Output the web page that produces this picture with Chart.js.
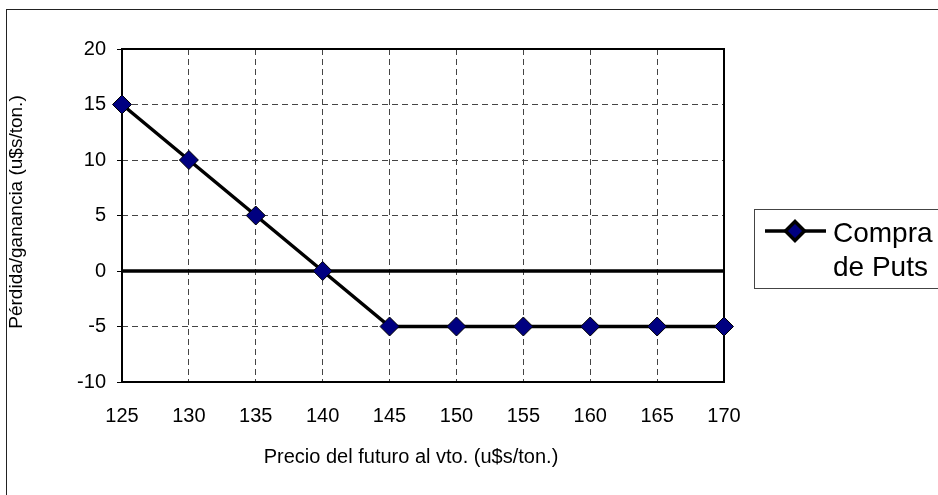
<!DOCTYPE html>
<html>
<head>
<meta charset="utf-8">
<script src="https://cdn.jsdelivr.net/npm/chart.js@4"></script>
<style>
  html, body { margin: 0; padding: 0; background: #fff; overflow: hidden; }
  #wrap { position: relative; width: 938px; height: 495px; }
</style>
</head>
<body>
<div id="wrap"><canvas id="c" width="938" height="495"></canvas></div>
<script>
// Payoff of a long put position at expiry
const precios   = [125, 130, 135, 140, 145, 150, 155, 160, 165, 170];
const resultado = [15, 10, 5, 0, -5, -5, -5, -5, -5, -5];
const serieNombre = ['Compra', 'de Puts'];
const tituloX = 'Precio del futuro al vto. (u$s/ton.)';
const tituloY = 'Pérdida/ganancia (u$s/ton.)';
const yMin = -10, yMax = 20, yPaso = 5;
const xMin = 125, xMax = 170, xPaso = 5;

const FUENTE = '"Liberation Sans", Arial, sans-serif';
const AZUL = '#000080';

const marco = {
  id: 'marco',
  beforeDraw(chart) {
    const ctx = chart.ctx;
    ctx.save();
    ctx.fillStyle = '#fff';
    ctx.fillRect(0, 0, chart.width, chart.height);
    // outer frame of the chart object
    ctx.strokeStyle = '#222';
    ctx.lineWidth = 1;
    ctx.strokeRect(6.5, 9.5, 1000, 600);
    ctx.restore();
  },
  beforeDatasetsDraw(chart) {
    const ctx = chart.ctx;
    const a = chart.chartArea;
    const y = chart.scales.y;
    ctx.save();
    // plot area border
    ctx.strokeStyle = '#000';
    ctx.lineWidth = 2;
    ctx.strokeRect(a.left, a.top, a.right - a.left, a.bottom - a.top);
    // zero line
    const y0 = y.getPixelForValue(0);
    ctx.lineWidth = 3.5;
    ctx.beginPath();
    ctx.moveTo(a.left, y0);
    ctx.lineTo(a.right, y0);
    ctx.stroke();
    ctx.restore();
  },
  afterDraw(chart) {
    const ctx = chart.ctx;
    ctx.save();
    ctx.fillStyle = '#000';
    ctx.textAlign = 'center';
    ctx.textBaseline = 'middle';
    ctx.font = '20px ' + FUENTE;
    ctx.fillText(tituloX, 411, 457);
    ctx.font = '19px ' + FUENTE;
    ctx.translate(17, 212);
    ctx.rotate(-Math.PI / 2);
    ctx.fillText(tituloY, 0, 0);
    ctx.restore();

    // legend
    ctx.save();
    ctx.strokeStyle = '#444';
    ctx.lineWidth = 1;
    ctx.strokeRect(754.5, 209.5, 400, 79);
    const ly = 231;
    ctx.strokeStyle = '#000';
    ctx.lineWidth = 3.5;
    ctx.beginPath();
    ctx.moveTo(765, ly);
    ctx.lineTo(826, ly);
    ctx.stroke();
    ctx.fillStyle = AZUL;
    ctx.strokeStyle = '#000';
    Chart.helpers.drawPoint(ctx, { pointStyle: 'rectRot', radius: 9.5, borderWidth: 1, rotation: 0 }, 795, ly);
    ctx.fillStyle = '#000';
    ctx.font = '28px ' + FUENTE;
    ctx.textAlign = 'left';
    ctx.textBaseline = 'alphabetic';
    ctx.fillText(serieNombre[0], 833, 242);
    ctx.fillText(serieNombre[1], 833, 276);
    ctx.restore();
  }
};

new Chart(document.getElementById('c'), {
  type: 'line',
  data: {
    datasets: [{
      label: serieNombre.join(' '),
      data: precios.map((p, i) => ({ x: p, y: resultado[i] })),
      borderColor: '#000',
      borderWidth: 3.5,
      pointStyle: 'rectRot',
      pointRadius: 9.5,
      pointHoverRadius: 9.5,
      pointBackgroundColor: AZUL,
      pointBorderColor: '#000',
      pointBorderWidth: 1,
      tension: 0,
      clip: false
    }]
  },
  options: {
    responsive: false,
    animation: false,
    devicePixelRatio: 1,
    layout: { padding: { top: 49, right: 214, left: 0, bottom: 0 } },
    plugins: { legend: { display: false }, tooltip: { enabled: false } },
    scales: {
      x: {
        type: 'linear',
        min: xMin, max: xMax,
        afterFit(s) { s.height = 113; },
        ticks: { stepSize: xPaso, color: '#000', font: { size: 20, family: FUENTE }, padding: 22, maxRotation: 0 },
        grid: { color: '#444', lineWidth: 1, drawTicks: false },
        border: { display: false, dash: [6, 4] }
      },
      y: {
        min: yMin, max: yMax,
        afterFit(s) { s.width = 122; },
        ticks: { stepSize: yPaso, color: '#000', font: { size: 20, family: FUENTE }, padding: 11 },
        grid: { color: '#444', lineWidth: 1, drawTicks: true, tickLength: 5, tickColor: '#000', tickBorderDash: [] },
        border: { display: false, dash: [6, 4] }
      }
    }
  },
  plugins: [marco]
});
</script>
</body>
</html>
